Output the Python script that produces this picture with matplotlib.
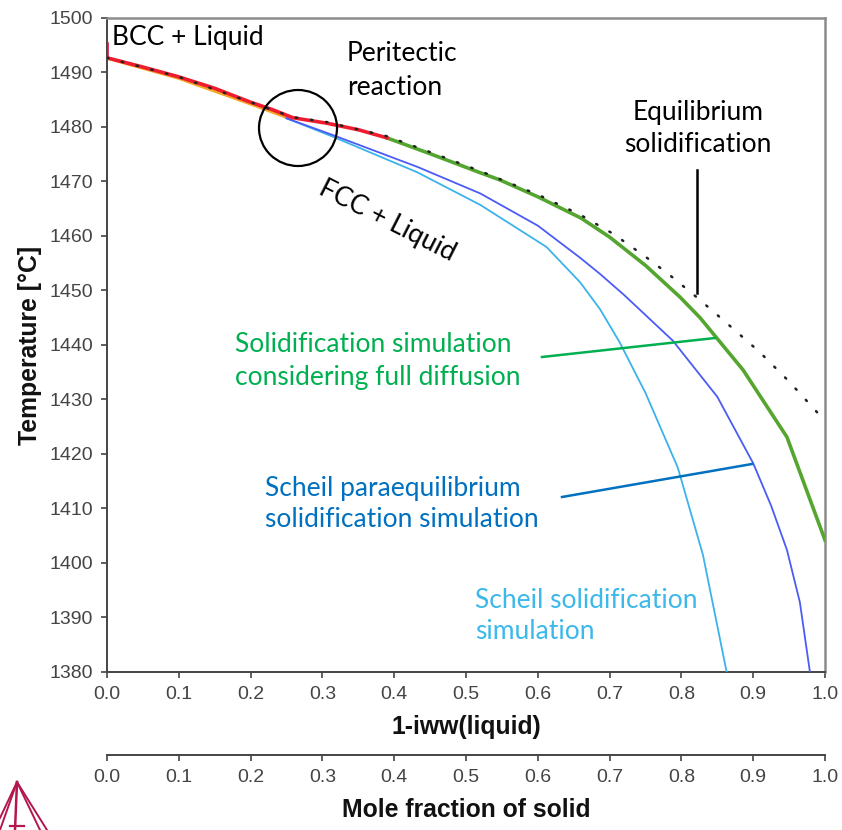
import numpy as np
import matplotlib
matplotlib.use("Agg")
import matplotlib.pyplot as plt
from matplotlib.patches import Ellipse
from matplotlib.lines import Line2D

# ---------------- data ----------------
x_spike = [0.0, 0.0]
T_spike = [1495.2, 1492.7]

x_red = [0.0, 0.05, 0.10, 0.15, 0.199, 0.23, 0.259, 0.306, 0.35, 0.39]
T_red = [1492.7, 1491.0, 1489.2, 1487.1, 1484.6, 1483.2, 1481.7, 1480.7, 1479.5, 1478.0]

x_orange = [0.0, 0.10, 0.20, 0.259]
T_orange = [1492.6, 1488.9, 1484.2, 1481.3]

x_green = [0.39, 0.454, 0.52, 0.547, 0.60, 0.66, 0.70, 0.75, 0.798, 0.826, 0.886, 0.947, 1.0]
T_green = [1478.0, 1474.9, 1471.6, 1470.3, 1467.2, 1463.3, 1459.8, 1454.6, 1448.8, 1445.0, 1435.4, 1423.1, 1404.2]

x_para = [0.25, 0.315, 0.432, 0.52, 0.60, 0.659, 0.687, 0.72, 0.788, 0.85, 0.90, 0.925, 0.947, 0.965, 0.979]
T_para = [1481.6, 1478.5, 1472.7, 1467.8, 1461.9, 1456.0, 1453.0, 1449.2, 1440.8, 1430.5, 1418.3, 1410.5, 1402.4, 1392.8, 1380.0]

x_scheil = [0.25, 0.315, 0.432, 0.52, 0.612, 0.659, 0.687, 0.714, 0.75, 0.795, 0.83, 0.863]
T_scheil = [1481.6, 1478.2, 1471.7, 1465.7, 1458.0, 1451.5, 1446.5, 1440.5, 1431.2, 1417.5, 1401.5, 1380.0]

x_eq = [0.0, 0.10, 0.199, 0.259, 0.306, 0.39, 0.454, 0.52, 0.60, 0.659, 0.705, 0.75, 0.784,
        0.821, 0.865, 0.909, 0.95, 0.99, 1.0]
T_eq = [1492.7, 1489.2, 1484.6, 1481.8, 1480.9, 1478.3, 1475.2, 1471.9, 1467.6, 1463.9, 1460.4,
        1456.2, 1452.8, 1448.8, 1443.8, 1438.7, 1433.3, 1427.5, 1425.9]

x_ticks = [0.0, 0.1, 0.2, 0.3, 0.4, 0.5, 0.6, 0.7, 0.8, 0.9, 1.0]
y_ticks = [1380, 1390, 1400, 1410, 1420, 1430, 1440, 1450, 1460, 1470, 1480, 1490, 1500]

# ---------------- figure ----------------
W, H = 842, 830
fig = plt.figure(figsize=(W / 100, H / 100), dpi=100)
L, R, TOP, BOT = 107, 825, 18, 672
ax = fig.add_axes([L / W, 1 - BOT / H, (R - L) / W, (BOT - TOP) / H])
ax.set_xlim(0, 1)
ax.set_ylim(1380, 1500)

TICKFONT = dict(family="Liberation Sans", size=14, color="#444444")
LABFONT = dict(family="Liberation Sans", size=17.8, weight="bold", color="#111111")
ANNFONT = "Lato"

# curves
ax.plot(x_orange, T_orange, color="#f5a623", lw=2.0, zorder=3, solid_capstyle="butt")
ax.plot(x_scheil, T_scheil, color="#3bb3ea", lw=1.3, zorder=3)
ax.plot(x_para, T_para, color="#4a5cf5", lw=1.3, zorder=3)
ax.plot(x_green, T_green, color="#55a630", lw=2.6, zorder=4)
ax.plot(x_red, T_red, color="#ee1c2e", lw=2.6, zorder=5)
ax.plot(x_spike, T_spike, color="#d0103a", lw=2.6, zorder=5)
ax.plot(x_eq, T_eq, color="#222222", lw=1.8, linestyle=(0, (0.6, 5.5)),
        dash_capstyle="round", zorder=6)

# axes styling
for s in ["top", "right"]:
    ax.spines[s].set_color("#8c8c8c")
    ax.spines[s].set_linewidth(1.8)
for s in ["left", "bottom"]:
    ax.spines[s].set_color("#444444")
    ax.spines[s].set_linewidth(1.4)
ax.set_xticks(x_ticks)
ax.set_xticklabels([f"{v:.1f}" for v in x_ticks], **TICKFONT)
ax.set_yticks(y_ticks)
ax.set_yticklabels([str(v) for v in y_ticks], **TICKFONT)
ax.tick_params(direction="out", length=4, width=1.2, color="#444444", pad=6)
ax.set_xlabel("1-iww(liquid)", labelpad=9, **LABFONT)
ax.set_ylabel("Temperature [°C]", labelpad=5, **LABFONT)

# secondary axis
sec = ax.secondary_xaxis(-(755 - BOT) / (BOT - TOP))
sec.spines["bottom"].set_color("#444444")
sec.spines["bottom"].set_linewidth(1.4)
sec.set_xticks(x_ticks)
sec.set_xticklabels([f"{v:.1f}" for v in x_ticks], **TICKFONT)
sec.tick_params(direction="out", length=4, width=1.2, color="#444444", pad=6)
sec.set_xlabel("Mole fraction of solid", labelpad=9, **LABFONT)

# ---------------- annotations ----------------
def px(xp):
    return (xp - L) / (R - L)

def py(yp):
    return 1500 - (yp - TOP) / (BOT - TOP) * 120

AF = 19
ax.text(px(112), py(38), "BCC + Liquid", family=ANNFONT, size=AF, color="black",
        ha="left", va="center", zorder=7)
ax.text(px(347), py(70), "Peritectic\nreaction", family=ANNFONT, size=AF, color="black",
        ha="left", va="center", linespacing=1.45, zorder=7)
ax.add_patch(Ellipse((px(298), py(128)), 78 / (R - L), 76 / (BOT - TOP) * 120,
                     fill=False, edgecolor="black", lw=1.6, zorder=7))
ax.text(px(387), py(221), "FCC + Liquid", family=ANNFONT, size=AF, color="black",
        ha="center", va="center", rotation=-27, rotation_mode="anchor", zorder=7)
ax.text(px(698), py(128), "Equilibrium\nsolidification", family=ANNFONT, size=AF,
        color="black", ha="center", va="center", linespacing=1.35, zorder=7)
ax.plot([px(697), px(697)], [py(170), py(293)], color="black", lw=1.8, zorder=7)

ax.text(px(235), py(361), "Solidification simulation\nconsidering full diffusion",
        family=ANNFONT, size=AF, color="#00b050", ha="left", va="center",
        linespacing=1.4, zorder=7)
ax.plot([px(542), px(715)], [py(357), py(338)], color="#00b050", lw=1.8, zorder=7)

ax.text(px(265), py(504.5), "Scheil paraequilibrium\nsolidification simulation",
        family=ANNFONT, size=AF, color="#0070c0", ha="left", va="center",
        linespacing=1.3, zorder=7)
ax.plot([px(562), px(752)], [py(497), py(464)], color="#0070c0", lw=1.8, zorder=7)

ax.text(px(475), py(616), "Scheil solidification\nsimulation",
        family=ANNFONT, size=AF, color="#3cb8ea", ha="left", va="center",
        linespacing=1.3, zorder=7)

# ---------------- logo fragment (bottom-left) ----------------
lc = "#b3174f"
def fl(x0, y0, x1, y1, lw=1.4):
    fig.add_artist(Line2D([x0 / W, x1 / W], [1 - y0 / H, 1 - y1 / H],
                          color=lc, lw=lw, transform=fig.transFigure))
apex = (17, 782)
fl(*apex, 0, 818)
fl(*apex, 0, 830)
fl(*apex, 47, 830)
fl(*apex, 40, 830)
fl(*apex, 15, 830, lw=1.8)
fl(10, 826, 24, 826, lw=1.6)

fig.savefig("out.png", dpi=100)
